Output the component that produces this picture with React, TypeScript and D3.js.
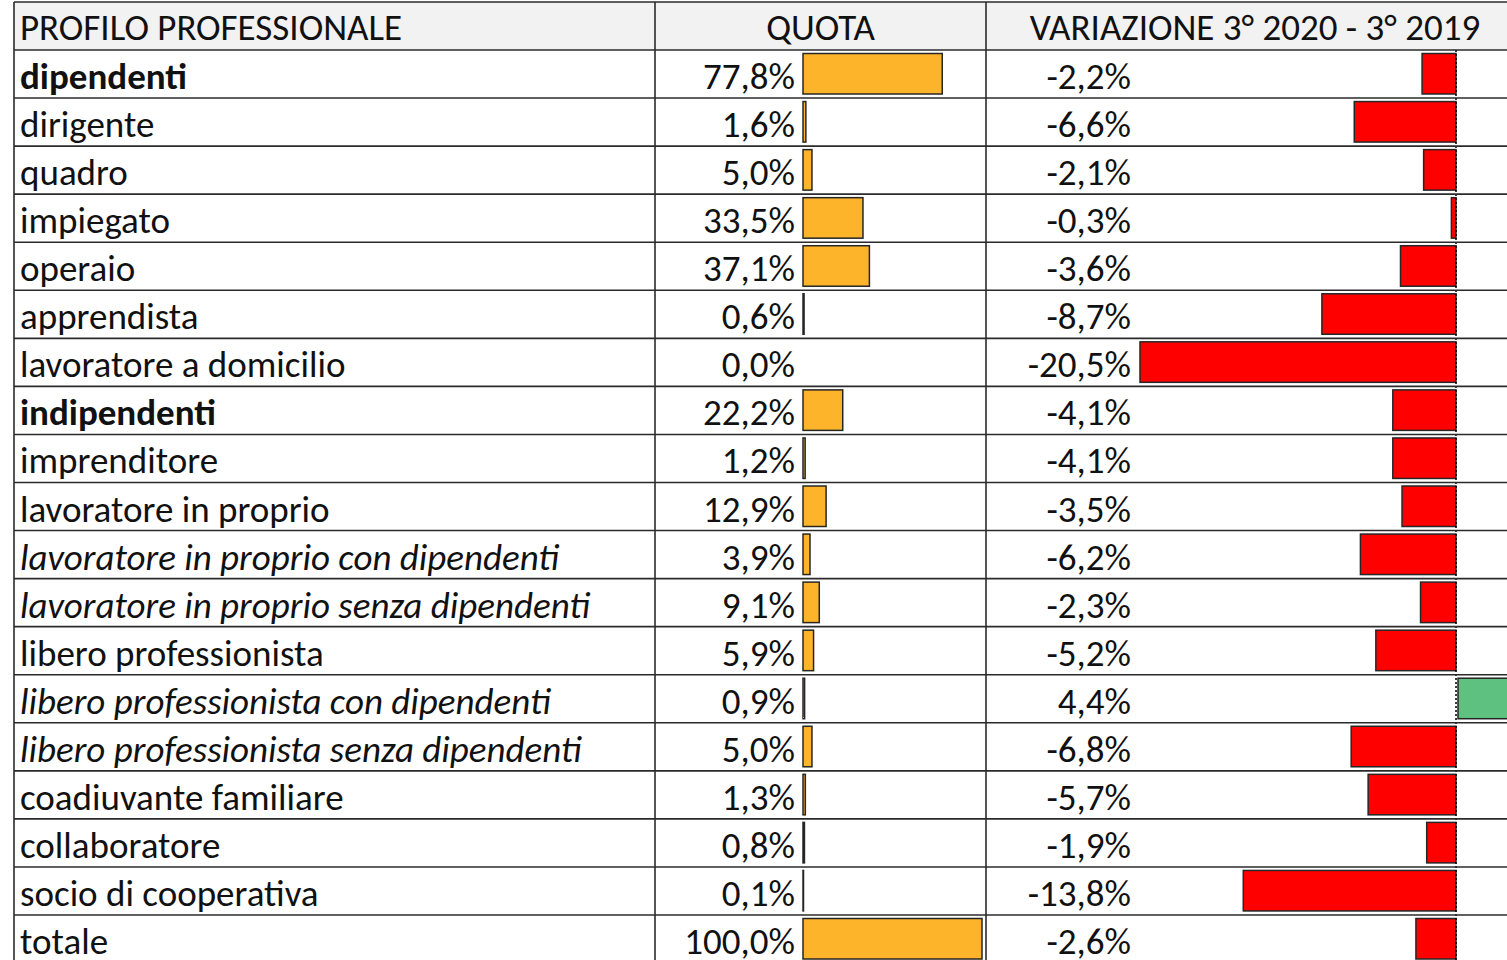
import React from "react";
import * as d3 from "d3";

const profili = [
  "dipendenti", "dirigente", "quadro", "impiegato", "operaio", "apprendista",
  "lavoratore a domicilio", "indipendenti", "imprenditore", "lavoratore in proprio",
  "lavoratore in proprio con dipendenti", "lavoratore in proprio senza dipendenti",
  "libero professionista", "libero professionista con dipendenti",
  "libero professionista senza dipendenti", "coadiuvante familiare",
  "collaboratore", "socio di cooperativa", "totale",
];
const stili = [
  "b", "n", "n", "n", "n", "n", "n", "b", "n", "n", "i", "i", "n", "i", "i", "n", "n", "n", "n",
];
const quota = [77.8, 1.6, 5.0, 33.5, 37.1, 0.6, 0.0, 22.2, 1.2, 12.9, 3.9, 9.1, 5.9, 0.9, 5.0, 1.3, 0.8, 0.1, 100.0];
const variazione = [-2.2, -6.6, -2.1, -0.3, -3.6, -8.7, -20.5, -4.1, -4.1, -3.5, -6.2, -2.3, -5.2, 4.4, -6.8, -5.7, -1.9, -13.8, -2.6];
const intestazioni = ["PROFILO PROFESSIONALE", "QUOTA", "VARIAZIONE 3° 2020 - 3° 2019"];

const W = 1507, H = 960;
const FONT = "Carlito, Calibri, Lato, sans-serif";
const FS = 37;
const xLeft = 14, xCol1 = 655, xCol2 = 986, xRight = 1524;
const headerTop = 2, headerBottom = 50;
const rowH = (915 - 50) / 18;

const fmt = (v: number) => d3.format(".1f")(v).replace(".", ",") + "%";

export default function App() {
  const xQ = d3.scaleLinear().domain([0, 100]).range([803, 982]);
  const xV = d3.scaleLinear().domain([-20.5, 0]).range([1140, 1456]);
  const y = (i: number) => headerBottom + i * rowH;
  const bottom = y(profili.length);
  const fmtV = (v: number) => (v < 0 ? "-" : "") + fmt(Math.abs(v));
  return (
    <svg width={W} height={H} style={{ position: "absolute", left: 0, top: 0 }} fontFamily={FONT}>
      <rect x={0} y={0} width={W} height={H} fill="#fff" />
      <rect x={xLeft} y={headerTop} width={xRight - xLeft} height={headerBottom - headerTop} fill="#F2F2F2" />
      <text x={20} y={headerTop + 38} fontSize={FS} fill="#111">{intestazioni[0]}</text>
      <text x={(xCol1 + xCol2) / 2} y={headerTop + 38} fontSize={FS} fill="#111" textAnchor="middle">{intestazioni[1]}</text>
      <text x={(xCol2 + xRight) / 2} y={headerTop + 38} fontSize={FS} fill="#111" textAnchor="middle">{intestazioni[2]}</text>
      {profili.map((p, i) => {
        const top = y(i);
        const q = quota[i];
        const v = variazione[i];
        const bx = Math.min(xV(v), xV(0));
        const bw = Math.abs(xV(v) - xV(0));
        return (
          <g key={p}>
            <text x={20} y={top + 39} fontSize={FS} fill="#111"
              fontWeight={stili[i] === "b" ? "bold" : "normal"}
              fontStyle={stili[i] === "i" ? "italic" : "normal"}>{p}</text>
            <text x={795} y={top + 39} fontSize={FS} fill="#111" textAnchor="end">{fmt(q)}</text>
            {q > 0 && (
              <rect x={xQ(0)} y={top + 3.5} width={Math.max(xQ(q) - xQ(0), 0.5)} height={40.5}
                fill="#FDB42B" stroke="#262626" strokeWidth={1.5} />
            )}
            <text x={1131} y={top + 39} fontSize={FS} fill="#111" textAnchor="end">{fmtV(v)}</text>
            <rect x={v < 0 ? bx : bx + 2} y={top + 3.5} width={bw} height={40.5}
              fill={v < 0 ? "#FF0000" : "#5EC17F"} stroke="#262626" strokeWidth={1.5} />
          </g>
        );
      })}
      <line x1={xV(0)} x2={xV(0)} y1={headerBottom} y2={bottom} stroke="#000" strokeWidth={1.5} strokeDasharray="2,2" />
      {d3.range(profili.length + 1).map((i) => (
        <line key={"h" + i} x1={xLeft} x2={xRight} y1={y(i)} y2={y(i)} stroke="#2b2b2b" strokeWidth={1.6} />
      ))}
      <line x1={xLeft} x2={xRight} y1={headerTop} y2={headerTop} stroke="#2b2b2b" strokeWidth={1.6} />
      {[xLeft, xCol1, xCol2].map((x) => (
        <line key={"v" + x} x1={x} x2={x} y1={headerTop} y2={bottom} stroke="#2b2b2b" strokeWidth={1.6} />
      ))}
    </svg>
  );
}
